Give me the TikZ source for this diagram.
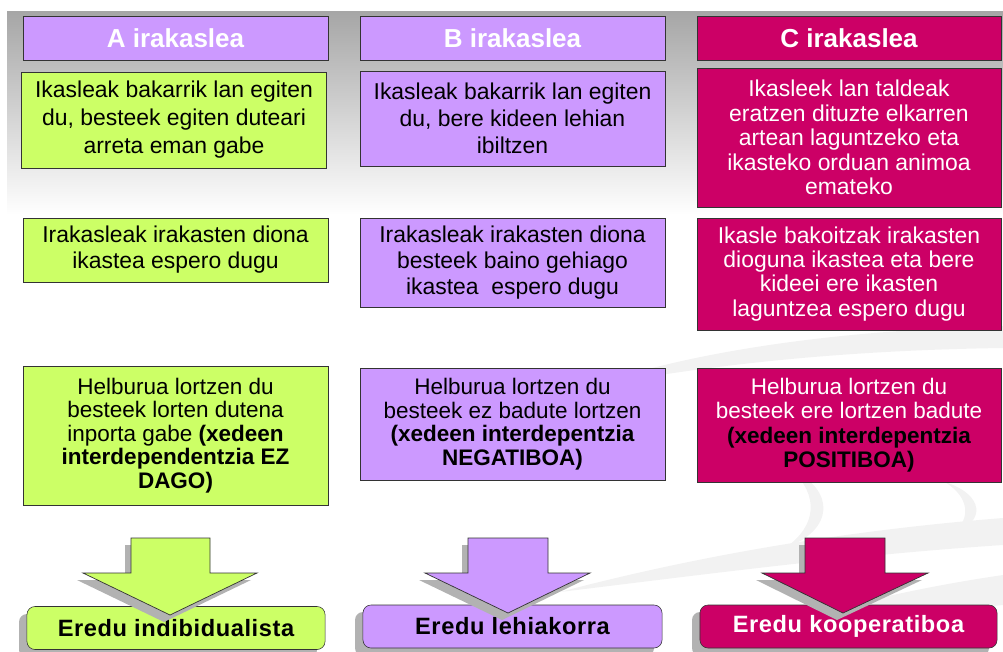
\documentclass[tikz,border=0pt]{standalone}
\usepackage{fontspec}
\setmainfont{Liberation Sans}

\definecolor{lila}{HTML}{CC99FF}
\definecolor{lima}{HTML}{CCFF66}
\definecolor{gorri}{HTML}{CC0066}
\definecolor{ertza}{HTML}{333333}

\begin{document}
\begin{tikzpicture}[x=0.025cm, y=-0.025cm,
    goiburu/.style={draw=ertza, fill=lila, minimum width=7.625cm, minimum height=1.1cm, text=white, font=\fontsize{18.5}{22}\selectfont\bfseries},
    kutxa/.style={draw=ertza, minimum width=7.625cm, inner sep=0pt, align=center},
    eredu/.style={draw=ertza, rounded corners=0.2cm, minimum height=1.075cm, font=\fontsize{16.8}{20}\selectfont\bfseries\addfontfeatures{LetterSpace=2.5}},
    blokea/.style={draw=ertza, line width=0.5pt},
    itzala/.style={fill=gray!60, draw=none},
    zirrara/.style={fill=gray!10, draw=none}]

    \useasboundingbox (0,0) rectangle (1003,651);
    % background
    \shade[top color=gray!70, bottom color=white] (7,11) rectangle (1003,215);
    \fill[zirrara] (585,388) .. controls (700,348) and (850,330) .. (1003,326) -- (1003,348) .. controls (860,350) and (720,362) .. cycle;
    \fill[zirrara] (792,470) .. controls (835,490) and (835,530) .. (785,548) .. controls (818,525) and (818,495) .. cycle;
    \fill[zirrara] (945,482) .. controls (985,495) and (985,522) .. (955,532) .. controls (970,518) and (970,498) .. cycle;
    \fill[zirrara] (560,592) .. controls (700,555) and (850,530) .. (1003,518) -- (1003,545) .. controls (850,555) and (700,575) .. cycle;
    \fill[zirrara] (690,651) .. controls (800,615) and (900,590) .. (1003,575) -- (1003,605) .. controls (900,615) and (800,635) .. (760,651) -- cycle;

    % headers
    \node[goiburu] (hA) at (175.5,38) {A irakaslea};
    \node[goiburu] (hB) at (512.5,38) {B irakaslea};
    \node[goiburu, fill=gorri, minimum width=7.6cm] (hC) at (849,38) {C irakaslea};

    % A irakaslea
    \node[kutxa, fill=lima, minimum height=2.4cm, font=\fontsize{16.3}{19.9}\selectfont] (a1) at (174,120) {Ikasleak bakarrik lan egiten\\du, besteek egiten duteari\\arreta eman gabe};
    \node[kutxa, fill=lima, minimum height=1.6cm, font=\fontsize{16.3}{18.5}\selectfont] (a2) at (175.5,250) {Irakasleak irakasten diona\\ikastea espero dugu};
    \node[kutxa, fill=lima, minimum height=3.475cm, font=\fontsize{16}{16.8}\selectfont] (a3) at (175.5,435.5) {Helburua lortzen du\\besteek lorten dutena\\inporta gabe \textbf{(xedeen}\\\textbf{interdependentzia EZ}\\\textbf{DAGO)}};

    % B irakaslea
    \node[kutxa, fill=lila, minimum height=2.375cm, font=\fontsize{16.3}{19.2}\selectfont] (b1) at (512.5,118.5) {Ikasleak bakarrik lan egiten\\du, bere kideen lehian\\ibiltzen};
    \node[kutxa, fill=lila, minimum height=2.225cm, font=\fontsize{16.3}{18.5}\selectfont] (b2) at (512.5,262.5) {Irakasleak irakasten diona\\besteek baino gehiago\\ikastea~ espero dugu};
    \node[kutxa, fill=lila, minimum height=2.8cm, font=\fontsize{16}{16.8}\selectfont] (b3) at (512.5,424) {Helburua lortzen du\\besteek ez badute lortzen\\\textbf{(xedeen interdepentzia}\\\textbf{NEGATIBOA)}};

    % C irakaslea
    \node[kutxa, fill=gorri, text=white, minimum width=7.6cm, minimum height=3.475cm, font=\fontsize{16.3}{17.4}\selectfont] (c1) at (849,137.5) {Ikasleek lan taldeak\\eratzen dituzte elkarren\\artean laguntzeko eta\\ikasteko orduan animoa\\emateko};
    \node[kutxa, fill=gorri, text=white, minimum width=7.6cm, minimum height=2.8cm, font=\fontsize{16.3}{17.1}\selectfont] (c2) at (849,274) {Ikasle bakoitzak irakasten\\dioguna ikastea eta bere\\kideei ere ikasten\\laguntzea espero dugu};
    \node[kutxa, fill=gorri, text=white, minimum width=7.6cm, minimum height=2.85cm, font=\fontsize{16}{17.4}\selectfont] (c3) at (849,425) {Helburua lortzen du\\besteek ere lortzen badute\\\textcolor{black}{\textbf{(xedeen interdepentzia}}\\\textcolor{black}{\textbf{POSITIBOA)}}};

    % ereduak (shadow first)
    \fill[itzala, rounded corners=0.2cm] (19,614) rectangle (317,658);
    \fill[itzala, rounded corners=0.2cm] (355,612) rectangle (654,656);
    \fill[itzala, rounded corners=0.2cm] (692,612) rectangle (989,656);
    \node[eredu, fill=lima, minimum width=7.45cm] (eA) at (176,628) {Eredu indibidualista};
    \node[eredu, fill=lila, minimum width=7.475cm] (eB) at (512.5,626.5) {Eredu lehiakorra};
    \node[eredu, fill=gorri, text=white, minimum width=7.425cm] (eC) at (848.5,626.5) {Eredu kooperatiboa};

    % arrows
    \fill[itzala, shift={(-6,7)}] (131,538) -- (210,538) -- (210,573) -- (257,573) -- (170,615) -- (83,573) -- (131,573) -- cycle;
    \draw[blokea, fill=lima] (131,538) -- (210,538) -- (210,573) -- (257,573) -- (170,615) -- (83,573) -- (131,573) -- cycle;
    \fill[itzala, shift={(-6,7)}] (468,538) -- (548,538) -- (548,573) -- (590,573) -- (508,613) -- (425,573) -- (468,573) -- cycle;
    \draw[blokea, fill=lila] (468,538) -- (548,538) -- (548,573) -- (590,573) -- (508,613) -- (425,573) -- (468,573) -- cycle;
    \fill[itzala, shift={(-6,7)}] (805,538) -- (885,538) -- (885,573) -- (928,573) -- (843,613) -- (762,573) -- (805,573) -- cycle;
    \draw[blokea, fill=gorri] (805,538) -- (885,538) -- (885,573) -- (928,573) -- (843,613) -- (762,573) -- (805,573) -- cycle;
\end{tikzpicture}
\end{document}
